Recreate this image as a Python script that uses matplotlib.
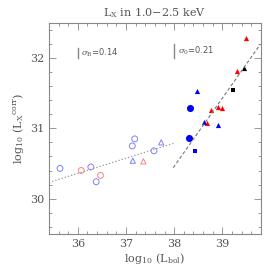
import matplotlib
matplotlib.use("Agg")
import matplotlib.pyplot as plt
from matplotlib.ticker import MultipleLocator
import numpy as np

# Data
red_tri_x = [39.50, 39.30, 38.76, 38.90, 38.99, 38.68]
red_tri_y = [32.29, 31.81, 31.26, 31.31, 31.29, 31.08]
blue_tri_x = [38.47, 38.61, 38.90]
blue_tri_y = [31.53, 31.09, 31.05]
blue_circ_x = [38.32, 38.30]
blue_circ_y = [31.29, 30.87]
blue_sq_x = [38.44]
blue_sq_y = [30.68]
black_sq_x = [39.22]
black_sq_y = [31.54]
black_tri_x = [39.44]
black_tri_y = [31.86]
open_blue_circ_x = [35.63, 36.27, 36.38, 37.13, 37.18, 37.58]
open_blue_circ_y = [30.43, 30.45, 30.24, 30.75, 30.85, 30.68]
open_red_circ_x = [36.07, 36.47]
open_red_circ_y = [30.40, 30.33]
open_blue_tri_x = [37.14, 37.73]
open_blue_tri_y = [30.54, 30.80]
open_red_tri_x = [37.36]
open_red_tri_y = [30.53]

dot_line_x = [35.4, 38.0]
dot_line_y = [30.23, 30.79]
dash_line_x = [37.98, 39.79]
dash_line_y = [30.44, 32.20]

sigma_x = [36.0, 38.0]
sigma_yc = [32.07, 32.10]
sigma_vals = [0.14, 0.21]
sigma_labels = [r"$\sigma_{\rm B}$=0.14", r"$\sigma_{0}$=0.21"]

plt.rcParams['font.family'] = ['DejaVu Serif']
plt.rcParams['mathtext.fontset'] = 'dejavuserif'
gray = '#555555'

fig = plt.figure(figsize=(2.66, 2.66), dpi=100, facecolor='white')
ax = fig.add_axes([0.184, 0.1214, 0.797, 0.792])
ax.set_facecolor('white')

ax.plot(dot_line_x, dot_line_y, linestyle=':', color='#999999', lw=0.9)
ax.plot(dash_line_x, dash_line_y, linestyle='--', color='#777777', lw=0.8, dashes=(3, 2))

ax.scatter(open_blue_circ_x, open_blue_circ_y, s=18, facecolors='none', edgecolors='#8080ff', linewidths=0.7)
ax.scatter(open_red_circ_x, open_red_circ_y, s=18, facecolors='none', edgecolors='#ff8080', linewidths=0.7)
ax.scatter(open_blue_tri_x, open_blue_tri_y, s=14, marker='^', facecolors='none', edgecolors='#8080ff', linewidths=0.7)
ax.scatter(open_red_tri_x, open_red_tri_y, s=14, marker='^', facecolors='none', edgecolors='#ff8080', linewidths=0.7)

ax.scatter(red_tri_x, red_tri_y, s=14, marker='^', color='red', linewidths=0)
ax.scatter(blue_tri_x, blue_tri_y, s=14, marker='^', color='blue', linewidths=0)
ax.scatter(blue_circ_x, blue_circ_y, s=26, marker='o', color='blue', linewidths=0)
ax.scatter(blue_sq_x, blue_sq_y, s=12, marker='s', color='blue', linewidths=0)
ax.scatter(black_sq_x, black_sq_y, s=12, marker='s', color='black', linewidths=0)
ax.scatter(black_tri_x, black_tri_y, s=14, marker='^', color='black', linewidths=0)

for xs, yc, sv, lab in zip(sigma_x, sigma_yc, sigma_vals, sigma_labels):
    ax.plot([xs, xs], [yc - sv / 2, yc + sv / 2], color='#888888', lw=1.0)
    ax.text(xs + 0.07, yc, lab, fontsize=6, color=gray, va='center', ha='left',
            family='DejaVu Sans')

ax.set_xlim(35.4, 39.8)
ax.set_ylim(29.5, 32.5)
ax.xaxis.set_major_locator(MultipleLocator(1))
ax.xaxis.set_minor_locator(MultipleLocator(0.2))
ax.yaxis.set_major_locator(MultipleLocator(1))
ax.yaxis.set_minor_locator(MultipleLocator(0.2))
ax.tick_params(which='both', direction='in', top=True, right=True, colors='#888888',
               labelcolor=gray, labelsize=8)
ax.tick_params(which='major', length=5, width=0.6)
ax.tick_params(which='minor', length=2.5, width=0.6)
for sp in ax.spines.values():
    sp.set_color('#888888')
    sp.set_linewidth(0.8)

ax.set_title(r"L$_{\rm X}$ in 1.0$-$2.5 keV", fontsize=8, color=gray, pad=5)
ax.set_xlabel(r"log$_{10}$ (L$_{\rm bol}$)", fontsize=8, color=gray, labelpad=2)
ax.set_ylabel(r"log$_{10}$ (L$_{\rm X}$$^{\rm corr}$)", fontsize=8, color=gray, labelpad=3)

fig.savefig("out.png", dpi=100, facecolor='white')
